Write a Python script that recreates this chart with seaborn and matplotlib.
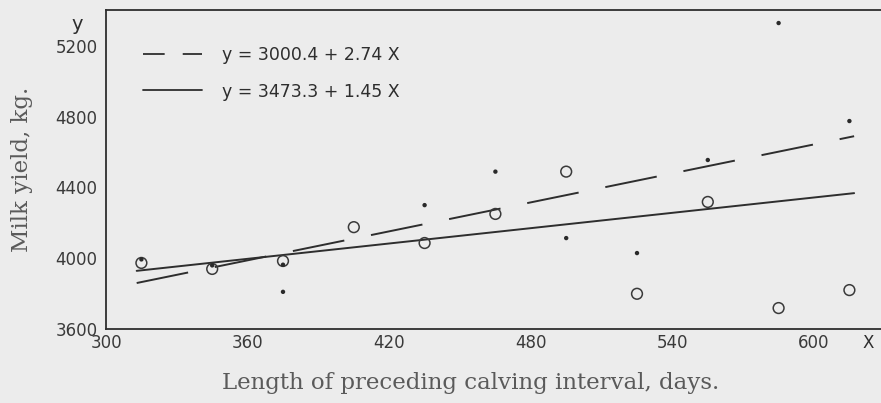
import numpy as np
import pandas as pd
import matplotlib
matplotlib.use("Agg")
import matplotlib.pyplot as plt
from matplotlib.lines import Line2D
import seaborn as sns

# ---- data ----
circle_x = [315, 345, 375, 405, 435, 465, 495, 525, 555, 585, 615]
circle_y = [3972, 3938, 3983, 4175, 4085, 4250, 4490, 3797, 4318, 3716, 3818]
dot_x = [315, 345, 375, 375, 435, 465, 495, 525, 555, 585, 615]
dot_y = [3992, 3958, 3962, 3808, 4300, 4490, 4113, 4028, 4556, 5333, 4777]

fit_intercepts = [3000.4, 3473.3]
fit_slopes = [2.74, 1.45]
fit_labels = ["y = 3000.4 + 2.74 X", "y = 3473.3 + 1.45 X"]
fit_x_range = [313, 617]

x_major_labels = [300, 360, 420, 480, 540, 600]
y_major_labels = [3600, 4000, 4400, 4800, 5200]

BG = "#ececec"
INK = "#2e2e2e"
LABEL_INK = "#5a5a5a"

sns.set_style("white")
plt.rcParams["font.family"] = ["DejaVu Sans"]

fig = plt.figure(figsize=(8.81, 4.03), dpi=100, facecolor=BG)
ax = fig.add_axes([106 / 881, (403 - 328.5) / 403, 1 - 106 / 881, (328.5 - 10) / 403])
ax.set_facecolor(BG)

# regression lines
line_styles = [dict(dashes=(27, 14)), dict()]
for a, b, lab, st in zip(fit_intercepts, fit_slopes, fit_labels, line_styles):
    xs = np.array(fit_x_range, dtype=float)
    df = pd.DataFrame({"x": xs, "y": a + b * xs})
    sns.lineplot(data=df, x="x", y="y", ax=ax, color=INK, lw=1.4)
    if st:
        ax.lines[-1].set_dashes(st["dashes"])

# points
sns.scatterplot(x=circle_x, y=circle_y, ax=ax, marker="o", s=60,
                facecolors="none", edgecolor="#3a3a3a", linewidth=1.1, zorder=3)
sns.scatterplot(x=dot_x, y=dot_y, ax=ax, marker="o", s=10,
                color="#2a2a2a", edgecolor="none", zorder=4)

ax.set_xlim(300, 300 + 775 / 2.36)
ax.set_ylim(3600, 5407)

# x ticks
xmaj = list(range(300, 601, 30))
ax.set_xticks(xmaj)
ax.set_xticklabels([str(v) if v in x_major_labels else "" for v in xmaj])
ax.set_xticks(list(range(315, 616, 30)), minor=True)
ax.tick_params(axis="x", which="major", direction="in", length=4, width=1.1,
               color=INK, labelsize=12, labelcolor="#3a3a3a", pad=4)
ax.tick_params(axis="x", which="minor", direction="in", length=2.2, width=1.0,
               color=INK)

# y ticks
ax.set_yticks(y_major_labels)
ax.set_yticklabels([str(v) for v in y_major_labels])
ax.set_yticks([3800, 4200, 4600, 5000], minor=True)
ax.tick_params(axis="y", which="major", direction="out", length=4, width=1.1,
               color=INK, labelsize=12, labelcolor="#3a3a3a", pad=2)
ax.tick_params(axis="y", which="minor", direction="in", length=3, width=1.0,
               color=INK)

for side in ["left", "bottom", "top"]:
    ax.spines[side].set_color(INK)
    ax.spines[side].set_linewidth(1.3)
ax.spines["right"].set_visible(False)

ax.set_xlabel("Length of preceding calving interval, days.", family="DejaVu Serif",
              fontsize=16.5, color=LABEL_INK)
ax.xaxis.set_label_coords((471 - 106) / 775, -(383 - 328.5) / 318.5)
ax.xaxis.label.set_va("center")
ax.set_ylabel("Milk yield, kg.", family="DejaVu Serif", fontsize=16.5,
              color=LABEL_INK)
ax.yaxis.set_label_coords(-(106 - 22) / 775, 0.5)
ax.yaxis.label.set_va("center")

# axis letters
ax.annotate("y", xy=(0, 1.0), xycoords="axes fraction", xytext=(-21, -10.5),
            textcoords="offset points", fontsize=14, color=INK, ha="center", va="center")
ax.annotate("X", xy=(1.0, 0), xycoords="axes fraction", xytext=(-9, -10.5),
            textcoords="offset points", fontsize=12, color=INK, ha="center", va="center")

handles = [Line2D([], [], color=INK, lw=1.3, dashes=(12, 10)),
           Line2D([], [], color=INK, lw=1.3)]
leg = ax.legend(handles, fit_labels, loc="upper left", bbox_to_anchor=(0.028, 0.935),
                frameon=False, fontsize=12.5, handlelength=3.4, handletextpad=1.15,
                labelspacing=1.05, labelcolor=INK)

fig.savefig("out.png", dpi=100, facecolor=BG)
